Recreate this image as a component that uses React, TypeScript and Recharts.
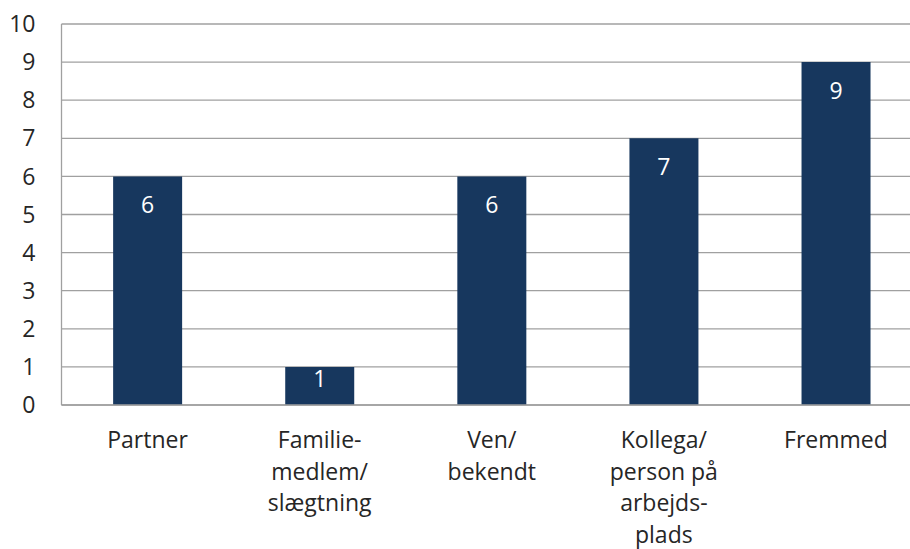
import React from "react";
import { BarChart, Bar, XAxis, YAxis, CartesianGrid, LabelList } from "recharts";

const categories = ["Partner", "Familie-\nmedlem/\nslægtning", "Ven/\nbekendt", "Kollega/\nperson på\narbejds-\nplads", "Fremmed"];
const counts = [6, 1, 6, 7, 9];
const yTicks = [0, 1, 2, 3, 4, 5, 6, 7, 8, 9, 10];

const data = categories.map((c, i) => ({ name: c, value: counts[i] }));

const FONT = "'Open Sans', sans-serif";
const GRID = "#a0a0a0";
const TEXT = "#262626";
const BAR = "#17375E";

const XTick = (props: any) => {
  const { x, payload } = props;
  const lines = String(payload.value).split("\n");
  return (
    <g>
      {lines.map((l: string, i: number) => (
        <text key={i} x={x} y={448 + i * 31.7} textAnchor="middle" fill={TEXT} fontSize={23} fontFamily={FONT}>
          {l}
        </text>
      ))}
    </g>
  );
};

const ValueLabel = (props: any) => {
  const { x, y, width, height, value } = props;
  const off = Math.min(29, height * 0.32);
  return (
    <text x={x + width / 2} y={y + off} dy={8} textAnchor="middle" fill="#ffffff" fontSize={23} fontFamily={FONT}>
      {value}
    </text>
  );
};

export default function App() {
  return (
    <div style={{ position: "absolute", left: 0, top: 0, width: 910, height: 549, overflow: "hidden", background: "#fff" }}>
      <BarChart
        width={925}
        height={549}
        data={data}
        margin={{ top: 24, right: 3, bottom: 0, left: 0 }}
        barCategoryGap="30%"
      >
        <CartesianGrid vertical={false} stroke={GRID} strokeWidth={1.3} />
        <XAxis
          dataKey="name"
          interval={0}
          height={144}
          tickLine={false}
          axisLine={{ stroke: GRID, strokeWidth: 1.3 }}
          tick={<XTick />}
        />
        <YAxis
          domain={[0, 10]}
          ticks={yTicks}
          width={61.5}
          tickLine={false}
          tickSize={0}
          tickMargin={26}
          axisLine={{ stroke: GRID, strokeWidth: 1.3 }}
          tick={{ fill: TEXT, fontSize: 23, fontFamily: FONT }}
        />
        <Bar dataKey="value" fill={BAR} isAnimationActive={false}>
          <LabelList dataKey="value" content={<ValueLabel />} />
        </Bar>
      </BarChart>
    </div>
  );
}
